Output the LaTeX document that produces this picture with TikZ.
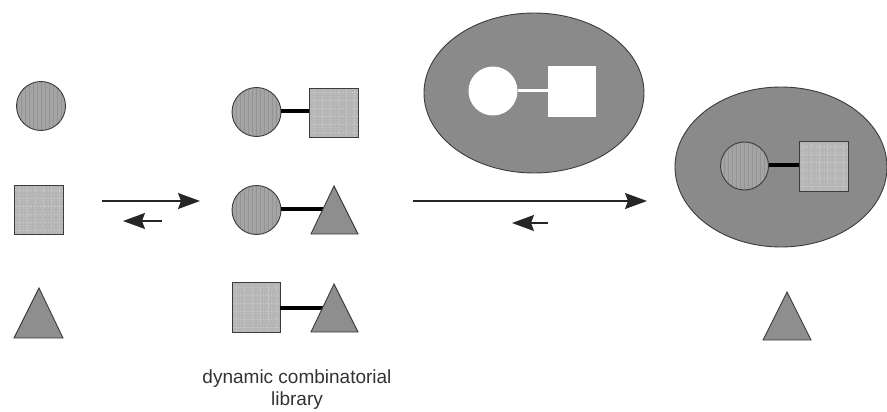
\documentclass[tikz,border=0pt]{standalone}
\usepackage{fontspec}
\setmainfont{Liberation Sans}
\usetikzlibrary{arrows.meta,shapes.geometric}
\definecolor{edge}{HTML}{3C3C3C}
\definecolor{circfill}{HTML}{A4A4A4}
\definecolor{stripe}{HTML}{949494}
\definecolor{sqfill}{HTML}{B6B6B6}
\definecolor{gridc}{HTML}{CFCFCF}
\definecolor{trifill}{HTML}{8E8E8E}
\definecolor{ellfill}{HTML}{8A8A8A}
\tikzset{
  mono/.style={circle, draw=edge, line width=0.9pt, fill=circfill, minimum size=49pt, inner sep=0pt,
    path picture={\foreach \i in {-24,-20,...,24}
      \draw[stripe, line width=0.6pt] ([xshift=\i pt]path picture bounding box.north) -- ([xshift=\i pt]path picture bounding box.south);}},
  squ/.style={rectangle, draw=edge, line width=0.9pt, fill=sqfill, minimum width=49pt, minimum height=49pt, inner sep=0pt,
    path picture={\foreach \i in {-20,-12,...,20} {
      \draw[gridc, line width=0.8pt, dotted] ([xshift=\i pt]path picture bounding box.north) -- ([xshift=\i pt]path picture bounding box.south);
      \draw[gridc, line width=0.8pt, dotted] ([yshift=\i pt]path picture bounding box.west) -- ([yshift=\i pt]path picture bounding box.east);}}},
  tri/.style={draw=edge, line width=0.9pt, fill=trifill, line join=miter},
  bond/.style={black, line width=3.6pt},
  wbond/.style={white, line width=3pt},
  blob/.style={ellipse, draw=edge, line width=0.9pt, fill=ellfill, inner sep=0pt},
  wcirc/.style={circle, fill=white, minimum size=49pt, inner sep=0pt},
  wsq/.style={rectangle, fill=white, minimum width=48pt, minimum height=51pt, inner sep=0pt},
  arr/.style={draw=black!85, line width=1.2pt, -{Stealth[length=22pt, width=16pt, inset=3pt]}},
  lbl/.style={font=\fontsize{19}{21}\selectfont, text=black!80, inner sep=0pt}
}
\begin{document}
\begin{tikzpicture}[x=1pt, y=-1pt]
\useasboundingbox (0,0) rectangle (887,412);
% left column
\node[mono] (lc) at (41,106) {};
\node[squ] (ls) at (39,210) {};
\coordinate (lt) at (39,313);
\path[tri] (39,288) -- (63,338) -- (14,338) -- cycle;
% arrows 1
\coordinate (a1s) at (102,201); \coordinate (a1e) at (200,201);
\coordinate (b1s) at (162,221); \coordinate (b1e) at (123,221);
\draw[arr] (a1s) -- (a1e);
\draw[arr] (b1s) -- (b1e);
% middle row 1
\node[mono] (m1c) at (256.5,112) {};
\node[squ] (m1s) at (334,112.5) {};
\draw[bond] (m1c.east |- 0,111) -- (m1s.west |- 0,111);
% middle row 2
\node[mono] (m2c) at (256.5,210) {};
\coordinate (m2t) at (334,209);
\draw[bond] (m2c.east |- m2t) -- (m2t);
\path[tri] (334,186) -- (358,234) -- (311,234) -- cycle;
% middle row 3
\node[squ, minimum width=48pt, minimum height=50pt] (m3s) at (256,307) {};
\coordinate (m3t) at (334,308);
\draw[bond] (m3s.east |- m3t) -- (m3t);
\path[tri] (334,284) -- (358,332) -- (311,332) -- cycle;
% label
\node[lbl] (lab1) at (297,379) {dynamic combinatorial};
\node[lbl] (lab2) at (297,401) {library};
% ellipse 1 (template with imprint)
\node[blob, minimum width=220pt, minimum height=160pt] (e1) at (534,93) {};
\node[wcirc] (e1c) at (493,91) {};
\node[wsq] (e1s) at (572,91.5) {};
\draw[wbond] (e1c.east) -- (e1s.west |- e1c.east);
% arrows 2
\coordinate (a2s) at (413,201); \coordinate (a2e) at (647,201);
\coordinate (b2s) at (548,223); \coordinate (b2e) at (512,223);
\draw[arr] (a2s) -- (a2e);
\draw[arr] (b2s) -- (b2e);
% ellipse 2 (template with bound species)
\node[blob, minimum width=212pt, minimum height=160pt] (e2) at (781,167) {};
\node[mono, minimum size=48pt] (e2c) at (744.5,166) {};
\node[squ, minimum width=49pt, minimum height=50pt] (e2s) at (823.5,166) {};
\draw[bond] (e2c.east |- 0,165) -- (e2s.west |- 0,165);
% free triangle
\path[tri] (787,292) -- (811,340) -- (763,340) -- cycle;
\end{tikzpicture}
\end{document}
